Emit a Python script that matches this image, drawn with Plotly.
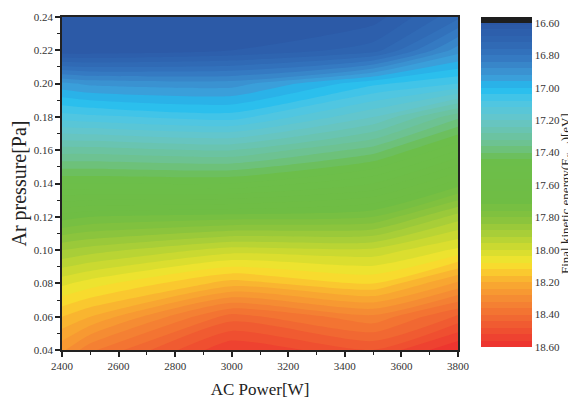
import plotly.graph_objects as go

# AC power [W] (x grid) and Ar pressure [Pa] (y grid)
power = [2400, 2500, 3000, 3500, 3800]
pressure = [0.04, 0.06, 0.08, 0.10, 0.12, 0.14, 0.16, 0.18, 0.20, 0.22, 0.24]

# Final kinetic energy [eV]; one row per pressure, one column per power
energy = [
    [18.27, 18.35, 18.56, 18.48, 18.60],  # 0.04
    [18.16, 18.20, 18.42, 18.33, 18.45],  # 0.06
    [18.03, 18.06, 18.18, 18.12, 18.25],  # 0.08
    [17.88, 17.90, 17.98, 17.97, 18.05],  # 0.10
    [17.70, 17.72, 17.74, 17.76, 17.90],  # 0.12
    [17.48, 17.48, 17.48, 17.56, 17.70],  # 0.14
    [17.30, 17.30, 17.28, 17.38, 17.52],  # 0.16
    [17.10, 17.09, 17.06, 17.20, 17.35],  # 0.18
    [16.93, 16.91, 16.90, 17.03, 17.08],  # 0.20
    [16.61, 16.61, 16.64, 16.70, 16.90],  # 0.22
    [16.64, 16.63, 16.64, 16.62, 16.75],  # 0.24
]

cbar_ticks = [16.60, 16.80, 17.00, 17.20, 17.40, 17.60, 17.80, 18.00, 18.20, 18.40, 18.60]
x_ticks = [2400, 2600, 2800, 3000, 3200, 3400, 3600, 3800]
y_ticks = [0.04, 0.06, 0.08, 0.10, 0.12, 0.14, 0.16, 0.18, 0.20, 0.22, 0.24]
cbar_title = "Final kinetic energy(E<sub>final</sub>)[eV]"

# colours as function of energy value (eV)
palette = [
    (18.60, "#ED2F2F"), (18.50, "#EF4F30"), (18.40, "#F26E32"), (18.30, "#F58C33"),
    (18.20, "#F9AC30"), (18.12, "#FAD22E"), (18.08, "#F6E52F"), (18.00, "#D2DC2F"),
    (17.90, "#A8CE38"), (17.80, "#84C23E"), (17.70, "#6FBD44"), (17.45, "#6CBE4A"),
    (17.35, "#6DC28E"), (17.20, "#66C6C8"), (17.08, "#4CC6E6"), (17.00, "#20BDF0"),
    (16.95, "#3AA2DC"), (16.88, "#3A8CCC"), (16.80, "#3374BE"), (16.72, "#2F66B2"),
    (16.60, "#2B57A5"),
]
vmin, vmax = 16.60, 18.60
# the colour bar runs reversed (16.60 on top), so energy is drawn as its negative
colorscale = [[(vmax - v) / (vmax - vmin), c] for v, c in palette]
neg_energy = [[-v for v in row] for row in energy]

SERIF = "Liberation Serif"

# page has an 8px body margin: the figure is laid out 8px left/up of page coords
OFF = 8
PL, PR, PT, PB = 62 - OFF, 458 - OFF, 17 - OFF, 350 - OFF   # plot box in figure px
W, H = 576 - OFF, 401 - OFF
PW, PH = PR - PL, PB - PT

fig = go.Figure(go.Contour(
    x=power, y=pressure, z=neg_energy,
    colorscale=colorscale, zmin=-vmax, zmax=-vmin,
    contours=dict(coloring="fill", start=-vmax, end=-vmin, size=0.04, showlines=False),
    line=dict(width=0, smoothing=0.6),
    colorbar=dict(
        tickvals=[-t for t in cbar_ticks], ticktext=[f"{t:.2f}" for t in cbar_ticks],
        ticks="", outlinewidth=0, thickness=51,
        len=324, lenmode="pixels", x=(481 - OFF - PL) / PW, xanchor="left",
        y=(PB - (185 - OFF)) / PH, yanchor="middle",
        xpad=0, ypad=0,
        tickfont=dict(family=SERIF, size=11, color="#333"),
    ),
    hoverinfo="skip",
))

axis_common = dict(
    showline=True, linecolor="#222", linewidth=1.6, mirror=True,
    ticks="outside", ticklen=5, tickwidth=1.5, tickcolor="#222",
    showgrid=False, zeroline=False,
    tickfont=dict(family=SERIF, size=11, color="#333"),
    minor=dict(ticks="outside", ticklen=3, tickwidth=1.2, tickcolor="#222"),
)

fig.update_xaxes(range=[2400, 3800], tickvals=x_ticks, minor_dtick=100,
                 title=dict(text="AC Power[W]", font=dict(family=SERIF, size=17, color="#222"), standoff=12),
                 **axis_common)
fig.update_yaxes(range=[0.04, 0.24], tickvals=y_ticks, tickformat=".2f", minor_dtick=0.01,
                 title=dict(text="Ar pressure[Pa]", font=dict(family=SERIF, size=20, color="#222"), standoff=8),
                 **axis_common)

# black "out of range" cap on top of the colour bar
fig.add_shape(type="rect", xref="paper", yref="paper",
              x0=(481 - OFF - PL) / PW, x1=(532 - OFF - PL) / PW,
              y0=(PB - (23 - OFF)) / PH, y1=(PB - (17 - OFF)) / PH,
              fillcolor="#1E1E1E", line=dict(width=0), layer="above")

# colour-bar title, rotated, at the right edge
fig.add_annotation(text=cbar_title, textangle=-90, showarrow=False,
                   xref="paper", yref="paper",
                   x=(558 - PL) / PW, y=(PB - (194 - OFF)) / PH,
                   xanchor="center", yanchor="middle",
                   font=dict(family=SERIF, size=13, color="#222"))

fig.update_layout(
    width=W, height=H,
    margin=dict(l=PL, r=W - PR, t=PT, b=H - PB, autoexpand=False),
    paper_bgcolor="white", plot_bgcolor="white",
    font=dict(family=SERIF),
)

fig.write_html("out.html")
